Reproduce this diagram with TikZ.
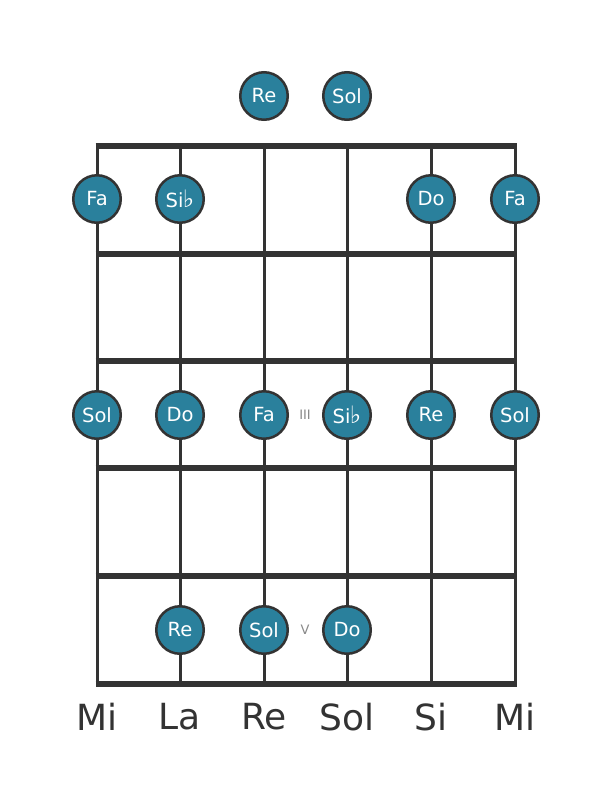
\documentclass[tikz,border=0pt]{standalone}
\usepackage{fontspec}
\setmainfont{DejaVu Sans}
\definecolor{notefill}{HTML}{2A809C}
\definecolor{gridline}{HTML}{333333}
\definecolor{markgray}{HTML}{888888}
\tikzset{
  note/.style={circle, fill=notefill, draw=gridline, line width=2.5pt, minimum size=47.5pt, inner sep=0pt, text=white, font=\fontsize{19.5}{19.5}\selectfont},
  fretline/.style={draw=gridline, line width=5.5pt},
  stringline/.style={draw=gridline, line width=3pt},
  strlabel/.style={text=gridline, font=\fontsize{36}{36}\selectfont},
  fretmark/.style={text=markgray, font=\fontsize{13}{13}\selectfont}
}
\newcommand{\flatsign}{\hspace{-0.5pt}{\fontsize{24}{24}\selectfont ♭}}
\begin{document}
\begin{tikzpicture}[x=1pt, y=-1pt]
  \useasboundingbox (0,0) rectangle (611,801);
  \foreach \x in {97,180,264,347,431,515}
    \draw[stringline] (\x,146) -- (\x,684);
  \foreach \y in {146,254,361,468,576,684}
    \draw[fretline] (95.5,\y) -- (516.5,\y);
  \node[note] (o3) at (264,96) {Re};
  \node[note] (o4) at (347,96) {Sol};
  \node[note] (a1) at (97,199) {Fa};
  \node[note] (a2) at (180,199) {Si\flatsign};
  \node[note] (a5) at (431,199) {Do};
  \node[note] (a6) at (515,199) {Fa};
  \node[note] (c1) at (97,415) {Sol};
  \node[note] (c2) at (180,415) {Do};
  \node[note] (c3) at (264,415) {Fa};
  \node[note] (c4) at (347,415) {Si\flatsign};
  \node[note] (c5) at (431,415) {Re};
  \node[note] (c6) at (515,415) {Sol};
  \node[note] (e2) at (180,630) {Re};
  \node[note] (e3) at (264,630) {Sol};
  \node[note] (e4) at (347,630) {Do};
  \node[fretmark] (m3) at (305,415) {III};
  \node[fretmark] (m5) at (305,630) {V};
  \node[strlabel] (s1) at (97,717) {Mi};
  \node[strlabel] (s2) at (180,717) {La};
  \node[strlabel] (s3) at (264,717) {Re};
  \node[strlabel] (s4) at (347,717) {Sol};
  \node[strlabel] (s5) at (431,717) {Si};
  \node[strlabel] (s6) at (515,717) {Mi};
\end{tikzpicture}
\end{document}
